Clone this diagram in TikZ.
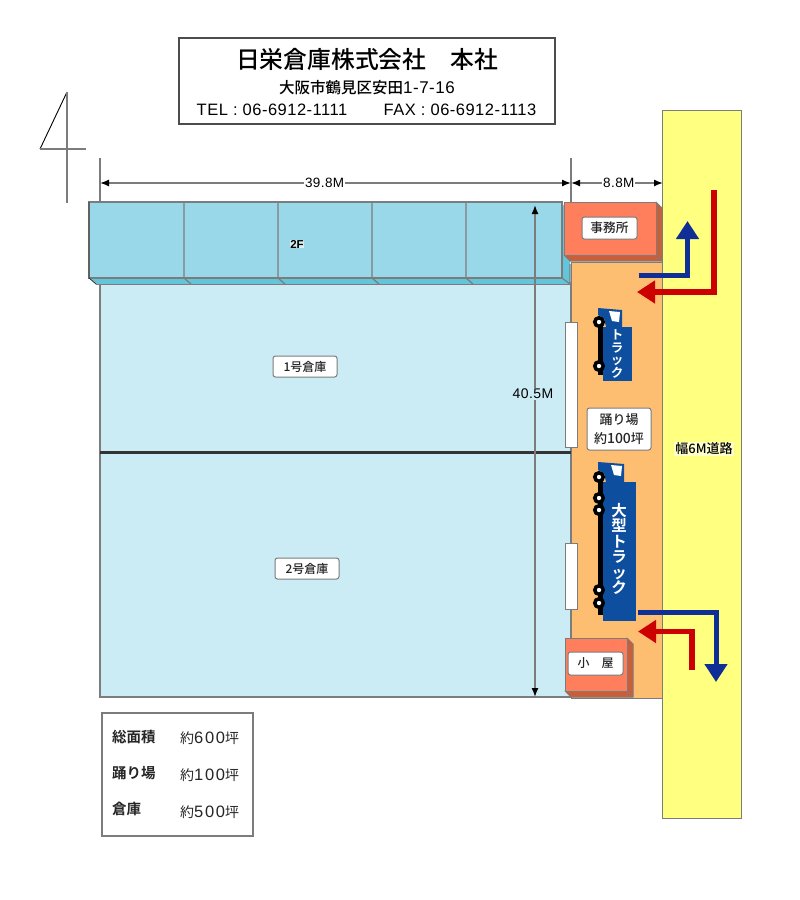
\documentclass[tikz,border=0pt]{standalone}
\usepackage{fontspec}
\setmainfont{Liberation Sans}
\newfontfamily\jp{Noto Sans CJK JP}
\newfontfamily\jpm{Noto Sans CJK JP Medium}
\newfontfamily\jpb{Noto Sans CJK JP Bold}
\newfontfamily\wide[LetterSpace=3]{Liberation Sans}
\newfontfamily\wider[LetterSpace=10]{Liberation Sans}
\newcommand{\fs}[1]{\fontsize{#1}{#1}\selectfont}
\usetikzlibrary{arrows.meta}
\definecolor{roadyellow}{HTML}{FFFF80}
\definecolor{yardorange}{HTML}{FDBE72}
\definecolor{hallblue}{HTML}{CBEBF5}
\definecolor{upperblue}{HTML}{99D8E8}
\definecolor{upperside}{HTML}{62C5DA}
\definecolor{hutfront}{HTML}{FF7F5C}
\definecolor{hutside}{HTML}{C95F3A}
\definecolor{truckblue}{HTML}{0D4F9E}
\definecolor{routeblue}{HTML}{0F2F96}
\definecolor{routered}{HTML}{CC0000}
\definecolor{edgegray}{HTML}{7C7C7C}
\tikzset{
  tag/.style={draw=edgegray,fill=white,rounded corners=2.5pt,line width=1pt,inner sep=0pt,
    font=\jpm\fs{12},text=black!85},
  dimline/.style={draw=edgegray,line width=1.4pt,{Latex[black,length=9pt,width=7pt]}-{Latex[black,length=9pt,width=7pt]}},
  tickline/.style={draw=edgegray,line width=1.3pt},
  hut/.style={draw=edgegray,line width=1pt,line join=round},
  bluepath/.style={draw=routeblue,line width=5pt,-{Triangle[length=18pt,width=22pt]}},
  redpath/.style={draw=routered,line width=5.5pt,-{Triangle[length=18pt,width=22pt]}},
  wheel/.style={circle,draw=black,fill=white,line width=3.5pt,minimum size=8.5pt,inner sep=0pt},
  trucktext/.style={text=white,font=\jpb\fs{#1},align=center,inner sep=0pt}
}
\begin{document}
\begin{tikzpicture}[x=1pt,y=-1pt]
  \useasboundingbox (0,0) rectangle (800,900);

  % title
  \draw[draw=black!70,line width=1.1pt] (179,38) rectangle (555,124);
  \node (title) at (367,59) {\jpm\fs{23.8}日栄倉庫株式会社　本社};
  \node (address) at (367,88) {\jpm\fs{15.5}大阪市鶴見区安田{\wide\fs{17}1-7-16}};
  \node (tel) at (272,110) {\wide\fs{16.5}TEL : 06-6912-1111};
  \node (fax) at (460,110) {\wide\fs{16.5}FAX : 06-6912-1113};

  % north mark
  \coordinate (ntop) at (67,92);
  \coordinate (nleft) at (40,149);
  \coordinate (nright) at (86,149);
  \coordinate (nfoot) at (67,203);
  \draw[line width=.9pt] (ntop) -- (nleft);
  \draw[tickline] (nleft) -- (nright);
  \draw[tickline] (ntop) -- (nfoot);

  % road and yard
  \draw[draw=edgegray,line width=1pt,fill=roadyellow] (662,110) rectangle (741,818);
  \draw[draw=edgegray,line width=1pt,fill=yardorange] (571,262) rectangle (662,698);
  \draw[draw=edgegray,line width=1.2pt,fill=hallblue] (100,283) rectangle (571,697);
  \coordinate (hallw) at (100,452);
  \coordinate (halle) at (571,452);
  \draw[draw=black!80,line width=3pt] (hallw) -- (halle);

  % upper floor
  \fill[upperside] (89,278) -- (562,278) -- (562,204) -- (570,210) -- (570,284) -- (96,284) -- cycle;
  \draw[fill=upperblue,draw=edgegray,line width=1.2pt] (89,202) rectangle (562,278);
  \draw[edgegray,line width=1.2pt] (562,278) -- (570,284) -- (570,264);
  \draw[black!80,line width=.8pt] (89,202) -- (89,278) -- (96,284);
  \draw[edgegray,line width=.6pt] (96,284) -- (570,284);
  \foreach \bay in {184,278,372,466} {
    \draw[edgegray,line width=1.2pt] (\bay,202) -- (\bay,278) -- (\bay+7,284);
  }
  \node[fill=white,inner sep=0pt,fill opacity=.6,text opacity=1] (upper) at (297,244) {\fs{11.5}\bfseries 2F};

  % dimensions
  \coordinate (dima) at (100,183);
  \coordinate (dimb) at (571,183);
  \coordinate (dimc) at (663,183);
  \coordinate (dimd) at (535,205);
  \coordinate (dime) at (535,697);
  \draw[tickline] (100,158) -- (100,202);
  \draw[tickline] (571,158) -- (571,202);
  \draw[dimline] (dima) -- node[pos=.477,fill=white,inner sep=1pt,font=\wide\fs{13.5}] {39.8M} (dimb);
  \draw[dimline] (dimb) -- node[pos=.52,fill=white,inner sep=1pt,font=\wide\fs{13.5}] {8.8M} (dimc);
  \draw[dimline] (dimd) -- (dime);
  \node[fill=hallblue,inner sep=1pt,font=\wide\fs{14}] (depth) at (533,394) {40.5M};

  % doors
  \draw[draw=edgegray,line width=1pt,fill=white] (565,322) rectangle (577,447);
  \draw[draw=edgegray,line width=1pt,fill=white] (565,543) rectangle (577,609);

  % huts
  \begin{scope}[hut]
    \draw[fill=hutside] (656,202) -- (662,208) -- (662,261) -- (570,261) -- (564,255) -- (656,255) -- cycle;
    \draw[fill=hutfront] (564,202) rectangle (656,255);
    \draw (656,255) -- (662,261);
    \draw[fill=hutside] (627,638) -- (633,644) -- (633,697) -- (571,697) -- (565,691) -- (627,691) -- cycle;
    \draw[fill=hutfront] (565,638) rectangle (627,691);
    \draw (627,691) -- (633,697);
  \end{scope}
  \node[tag,minimum width=55pt,minimum height=22pt,font=\jpm\fs{12.7}] (office) at (609.5,228) {事務所};
  \node[tag,minimum width=55pt,minimum height=23pt] (shed) at (595.5,663.5) {小　屋};

  % small truck
  \fill[truckblue] (598,308) -- (622,310) -- (622,327) -- (606,327) -- (604,318) -- (598,315) -- cycle;
  \fill[white] (609,311) -- (620,312) -- (619,322) -- (612,321) -- cycle;
  \fill[black] (598,322) rectangle (603,375);
  \fill[truckblue] (603,327) rectangle (632,381);
  \foreach \wheely in {322,366} {
    \node[wheel] at (599,\wheely) {};
  }
  \node[trucktext=12.5] (truck) at (617,354) {ト\\ラ\\ッ\\ク};

  % large truck
  \fill[truckblue] (598,462) -- (624,464) -- (624,482) -- (606,482) -- (604,473) -- (598,470) -- cycle;
  \fill[white] (611,465) -- (622,466) -- (621,476) -- (614,475) -- cycle;
  \fill[black] (598,477) rectangle (603,615);
  \fill[truckblue] (603,482) rectangle (636,621);
  \foreach \wheely in {477,498,510,590,603} {
    \node[wheel] at (599,\wheely) {};
  }
  \node[trucktext=15.5] (bigtruck) at (619,549) {大\\型\\ト\\ラ\\ッ\\ク};

  % routes
  \coordinate (bluea) at (639,275);
  \coordinate (blueb) at (687.5,275);
  \coordinate (bluec) at (687.5,221);
  \coordinate (reda) at (714,190);
  \coordinate (redb) at (714,292);
  \coordinate (redc) at (637,292);
  \coordinate (blued) at (638,612);
  \coordinate (bluee) at (716,612);
  \coordinate (bluef) at (716,682);
  \coordinate (redd) at (692,670);
  \coordinate (rede) at (692,631.5);
  \coordinate (redf) at (638,631.5);
  \draw[bluepath] (bluea) -- (blueb) -- (bluec);
  \draw[redpath] (reda) -- (redb) -- (redc);
  \draw[bluepath] (blued) -- (bluee) -- (bluef);
  \draw[redpath] (redd) -- (rede) -- (redf);

  % labels
  \node[tag,minimum width=64pt,minimum height=21pt] (hall1) at (305,366.5) {1号倉庫};
  \node[tag,minimum width=64pt,minimum height=21pt] (hall2) at (307,568.5) {2号倉庫};
  \node[tag,minimum width=64pt,minimum height=42pt,align=center,font=\jpm\fs{13}] (yard) at (619,429) {踊り場\\[6pt]約{\fs{14}100}坪};
  \node[fill=white,fill opacity=.6,text opacity=1,inner sep=1pt,font=\jpm\fs{13}] (road) at (704,449) {幅6M道路};

  % legend
  \draw[draw=edgegray,line width=1.2pt,fill=white] (102,713) rectangle (253,836);
  \begin{scope}[every node/.style={anchor=west,inner sep=0pt,text=black!85}]
    \node[font=\jpb\fs{14.5}] (totala) at (112,737) {総面積};
    \node[font=\jpb\fs{14.5}] (yarda) at (112,773) {踊り場};
    \node[font=\jpb\fs{14.5}] (halla) at (112,809) {倉庫};
    \node (totalb) at (180,738) {\jp\fs{14}約{\wider\fs{16.5}600}坪};
    \node (yardb) at (180,775) {\jp\fs{14}約{\wider\fs{16.5}100}坪};
    \node (hallb) at (180,812) {\jp\fs{14}約{\wider\fs{16.5}500}坪};
  \end{scope}
\end{tikzpicture}
\end{document}
